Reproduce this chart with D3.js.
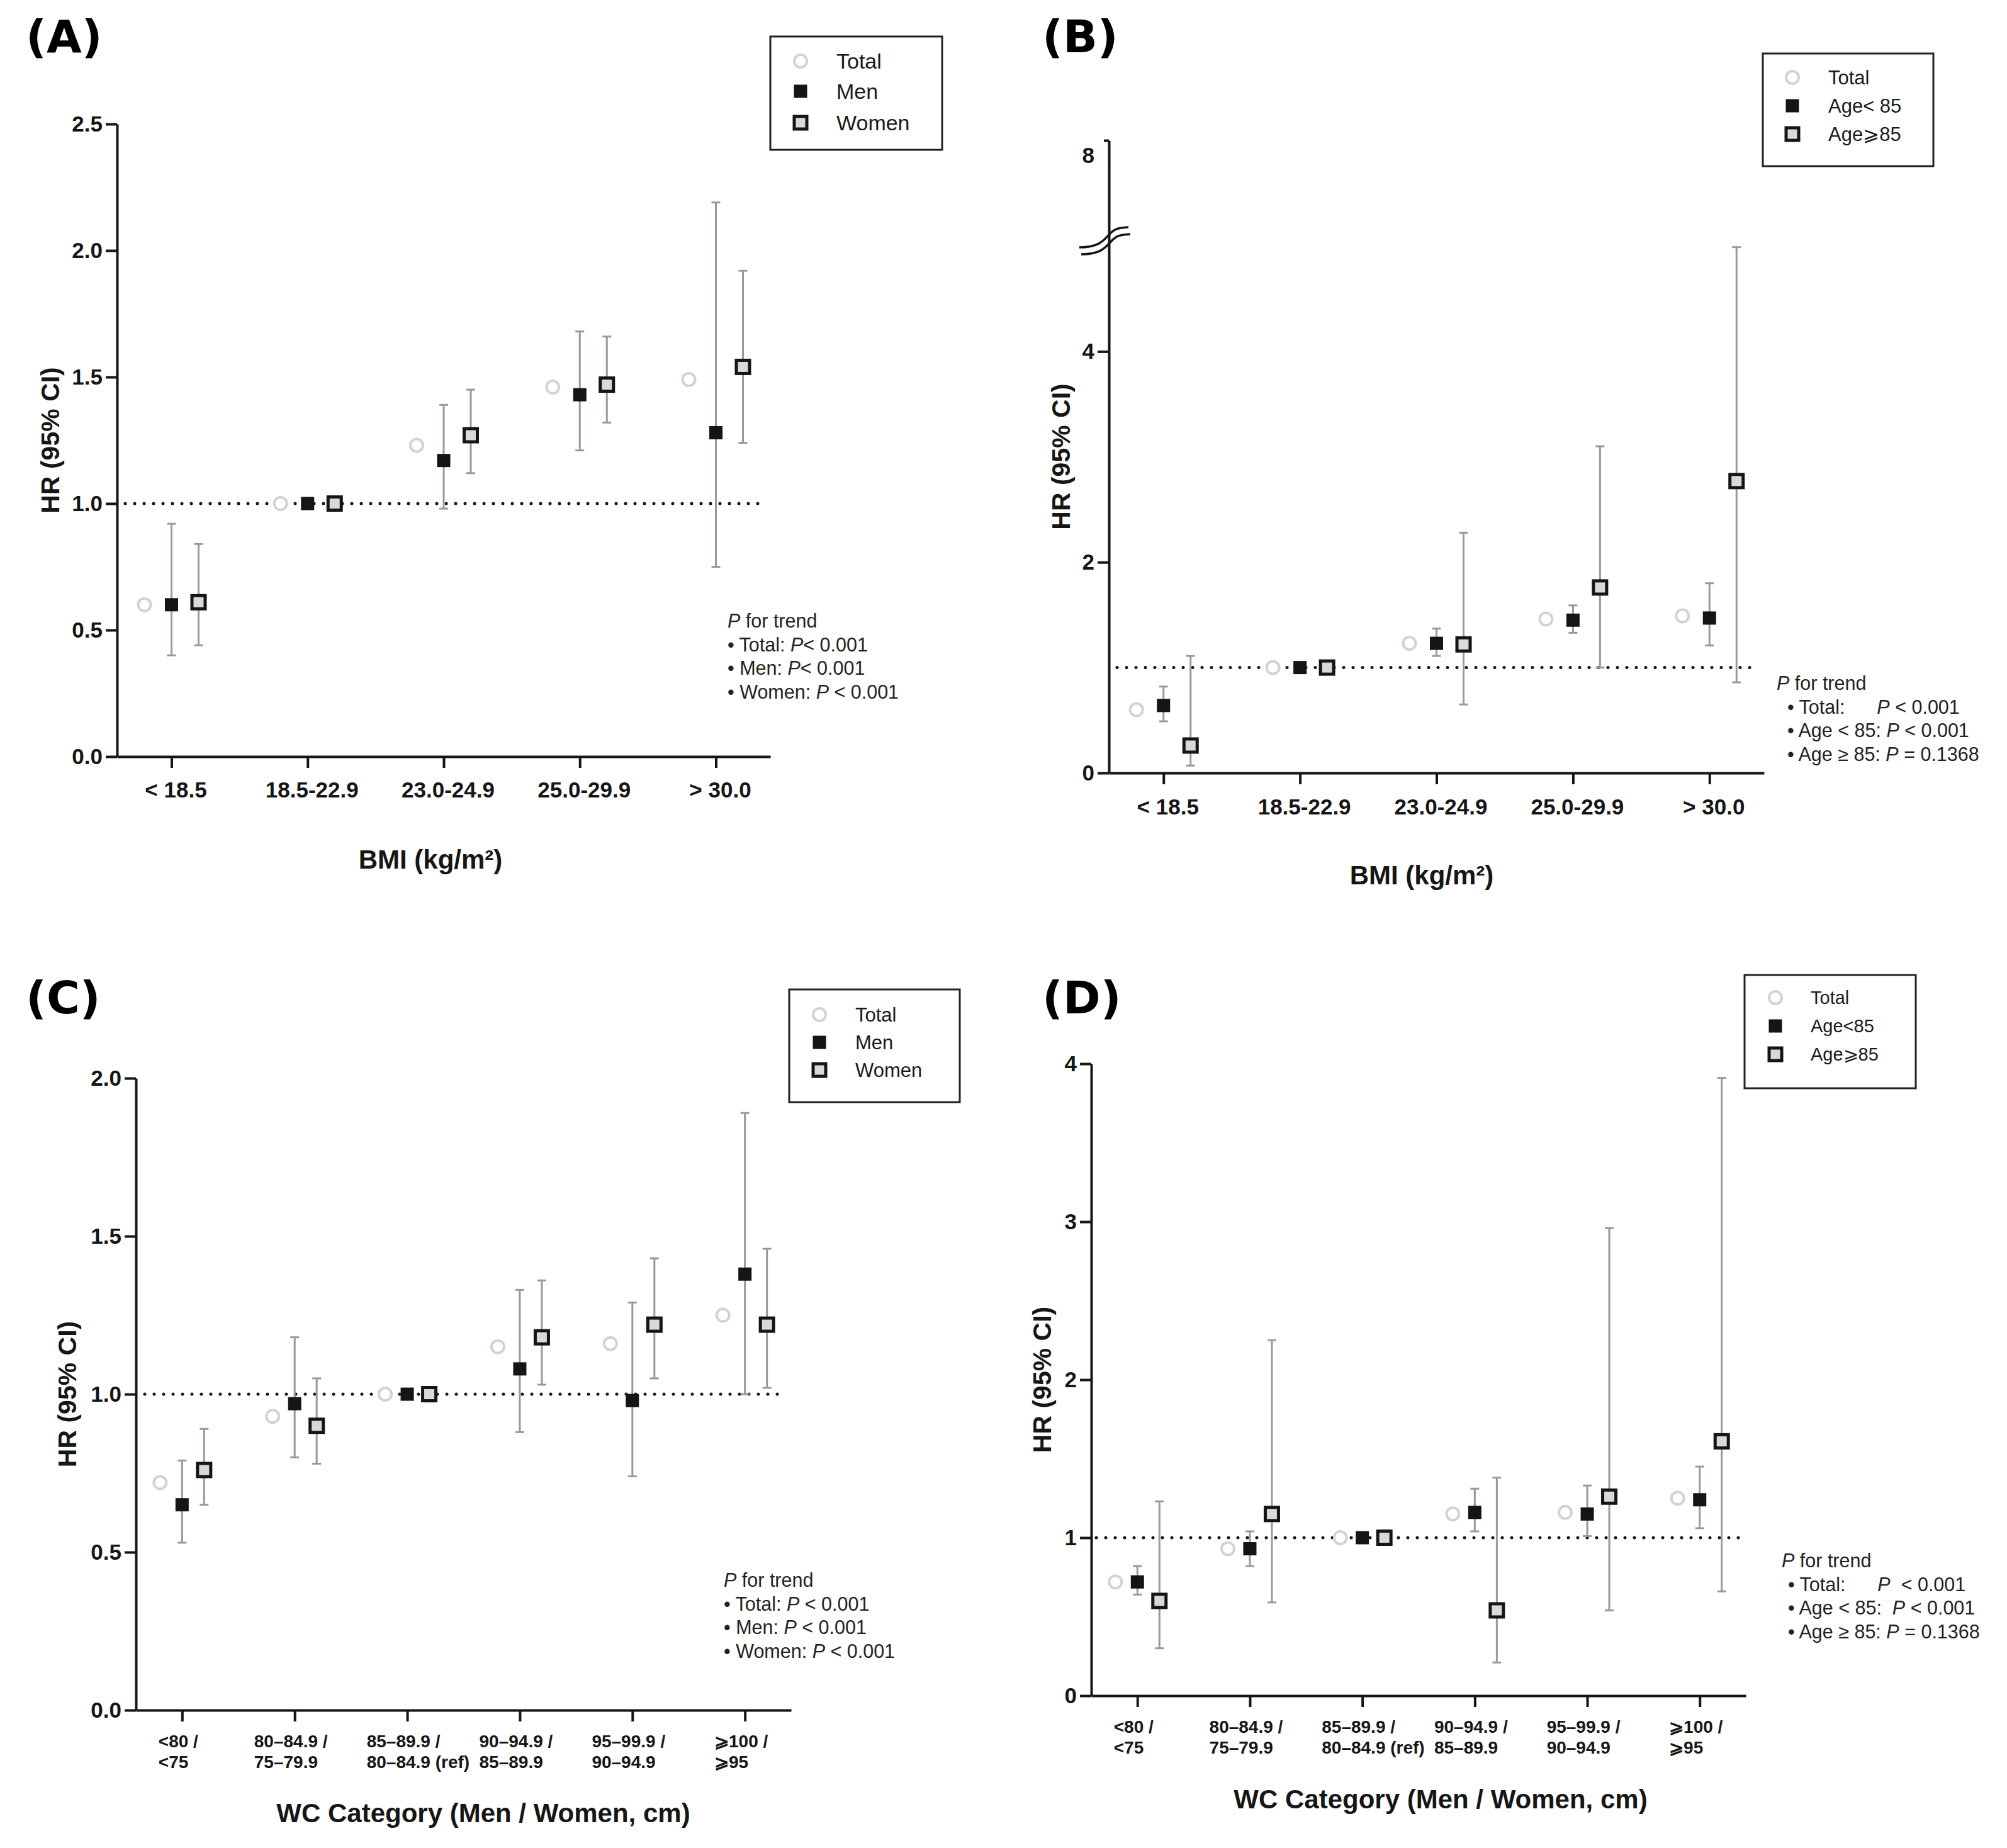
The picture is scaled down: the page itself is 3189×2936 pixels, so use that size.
<!DOCTYPE html>
<html>
<head>
<meta charset="utf-8">
<script src="https://cdn.jsdelivr.net/npm/d3@7"></script>
<style>
body { margin: 0; background: #fff; }
svg { display: block; background: #fff; }
text { font-family: "Liberation Sans", Arial, sans-serif; fill: #161616; }
</style>
</head>
<body>
<svg id="fig" width="3189" height="2936"></svg>
<script>
// Categories
var bmiCats = ["< 18.5", "18.5-22.9", "23.0-24.9", "25.0-29.9", "> 30.0"];
var wcTop = ["<80 /", "80\u201384.9 /", "85\u201389.9 /", "90\u201394.9 /", "95\u201399.9 /", "\u2A7E100 /"];
var wcBottom = ["<75", "75\u201379.9", "80\u201384.9 (ref)", "85\u201389.9", "90\u201394.9", "\u2A7E95"];

// (A) BMI by sex
var aTotal = [0.60, 1.00, 1.23, 1.46, 1.49];
var aMen = [0.60, 1.00, 1.17, 1.43, 1.28];
var aMenLow = [0.40, null, 0.98, 1.21, 0.75];
var aMenHigh = [0.92, null, 1.39, 1.68, 2.19];
var aWomen = [0.61, 1.00, 1.27, 1.47, 1.54];
var aWomenLow = [0.44, null, 1.12, 1.32, 1.24];
var aWomenHigh = [0.84, null, 1.45, 1.66, 1.92];
var aTicks = [0, 0.5, 1, 1.5, 2, 2.5];
var aLegend = ["Total", "Men", "Women"];
var aTrend = [["\u2022 Total: ", "P", "< 0.001"], ["\u2022 Men: ", "P", "< 0.001"], ["\u2022 Women: ", "P", " < 0.001"]];

// (B) BMI by age
var bTotal = [0.60, 1.00, 1.23, 1.46, 1.49];
var bYoung = [0.64, 1.00, 1.23, 1.45, 1.47];
var bYoungLow = [0.49, null, 1.11, 1.33, 1.21];
var bYoungHigh = [0.82, null, 1.37, 1.59, 1.80];
var bOld = [0.26, 1.00, 1.22, 1.76, 2.77];
var bOldLow = [0.07, null, 0.65, 1.00, 0.86];
var bOldHigh = [1.11, null, 2.28, 3.10, 4.99];
var bTicks = [0, 2, 4, 8];
var bLegend = ["Total", "Age< 85", "Age\u2A7E85"];
var bTrend = [["\u2022 Total:      ", "P", " < 0.001"], ["\u2022 Age < 85: ", "P", " < 0.001"], ["\u2022 Age \u2265 85: ", "P", " = 0.1368"]];

// (C) WC by sex
var cTotal = [0.72, 0.93, 1.00, 1.15, 1.16, 1.25];
var cMen = [0.65, 0.97, 1.00, 1.08, 0.98, 1.38];
var cMenLow = [0.53, 0.80, null, 0.88, 0.74, 1.00];
var cMenHigh = [0.79, 1.18, null, 1.33, 1.29, 1.89];
var cWomen = [0.76, 0.90, 1.00, 1.18, 1.22, 1.22];
var cWomenLow = [0.65, 0.78, null, 1.03, 1.05, 1.02];
var cWomenHigh = [0.89, 1.05, null, 1.36, 1.43, 1.46];
var cTicks = [0, 0.5, 1, 1.5, 2];
var cLegend = ["Total", "Men", "Women"];
var cTrend = [["\u2022 Total: ", "P", " < 0.001"], ["\u2022 Men: ", "P", " < 0.001"], ["\u2022 Women: ", "P", " < 0.001"]];

// (D) WC by age
var dTotal = [0.72, 0.93, 1.00, 1.15, 1.16, 1.25];
var dYoung = [0.72, 0.93, 1.00, 1.16, 1.15, 1.24];
var dYoungLow = [0.64, 0.82, null, 1.04, 1.01, 1.06];
var dYoungHigh = [0.82, 1.04, null, 1.31, 1.33, 1.45];
var dOld = [0.60, 1.15, 1.00, 0.54, 1.26, 1.61];
var dOldLow = [0.30, 0.59, null, 0.21, 0.54, 0.66];
var dOldHigh = [1.23, 2.25, null, 1.38, 2.96, 3.91];
var dTicks = [0, 1, 2, 3, 4];
var dLegend = ["Total", "Age<85", "Age\u2A7E85"];
var dTrend = [["\u2022 Total:      ", "P", "  < 0.001"], ["\u2022 Age < 85:  ", "P", " < 0.001"], ["\u2022 Age \u2265 85: ", "P", " = 0.1368"]];

var svg = d3.select("#fig");

var ink = "#151515";
var totalColor = "#d5d1d3";
var womenFill = "#dcd8da";
var barColor = "#9c9899";

// Panel layouts
var panels = [
    { tag: "(A)", tagX: 41, tagY: 83, cats: bmiCats, twoLine: false,
      left: 186, right: 1224, pad: 0.4, yDomain: [0, 2.5], yRange: [1202, 197],
      ticks: aTicks, fmt: d3.format(".1f"), off: 43,
      total: aTotal, s1: aMen, s1Low: aMenLow, s1High: aMenHigh,
      s2: aWomen, s2Low: aWomenLow, s2High: aWomenHigh,
      ref: [199, 1214], labY: 1267, xTitle: "BMI (kg/m\u00B2)", xTitleX: 684, xTitleY: 1380,
      yTitleX: 80, legend: aLegend, box: [1224, 58, 273, 180], legRows: [97, 145, 195],
      legMarkX: 1272, legTextX: 1329, legSize: 34,
      trend: aTrend, trendX: 1156, trendIndent: 0, trendY: 997 },
    { tag: "(B)", tagX: 1656, tagY: 83, cats: bmiCats, twoLine: false,
      left: 1762, right: 2803, pad: 0.4, yDomain: [0, 5, 8], yRange: [1228, 391, 223],
      ticks: bTicks, fmt: d3.format("d"), off: 43, broken: true,
      total: bTotal, s1: bYoung, s1Low: bYoungLow, s1High: bYoungHigh,
      s2: bOld, s2Low: bOldLow, s2High: bOldHigh,
      ref: [1775, 2786], labY: 1294, xTitle: "BMI (kg/m\u00B2)", xTitleX: 2259, xTitleY: 1405,
      yTitleX: 1686, legend: bLegend, box: [2801, 85, 271, 179], legRows: [123, 168, 213],
      legMarkX: 2848, legTextX: 2905, legSize: 31,
      trend: bTrend, trendX: 2823, trendIndent: 17, trendY: 1096 },
    { tag: "(C)", tagX: 41, tagY: 1610, cats: wcTop, twoLine: true,
      left: 216, right: 1257, pad: 0.41, yDomain: [0, 2], yRange: [2717, 1713],
      ticks: cTicks, fmt: d3.format(".1f"), off: 35,
      total: cTotal, s1: cMen, s1Low: cMenLow, s1High: cMenHigh,
      s2: cWomen, s2Low: cWomenLow, s2High: cWomenHigh,
      ref: [230, 1243], labY: 2776, xTitle: "WC Category (Men / Women, cm)", xTitleX: 768, xTitleY: 2895,
      yTitleX: 107, legend: cLegend, box: [1254, 1572, 271, 179], legRows: [1612, 1656, 1700],
      legMarkX: 1302, legTextX: 1359, legSize: 31,
      trend: cTrend, trendX: 1150, trendIndent: 0, trendY: 2521 },
    { tag: "(D)", tagX: 1656, tagY: 1610, cats: wcTop, twoLine: true,
      left: 1734, right: 2774, pad: 0.41, yDomain: [0, 4], yRange: [2694, 1690],
      ticks: dTicks, fmt: d3.format("d"), off: 35,
      total: dTotal, s1: dYoung, s1Low: dYoungLow, s1High: dYoungHigh,
      s2: dOld, s2Low: dOldLow, s2High: dOldHigh,
      ref: [1742, 2763], labY: 2753, xTitle: "WC Category (Men / Women, cm)", xTitleX: 2289, xTitleY: 2873,
      yTitleX: 1656, legend: dLegend, box: [2772, 1549, 272, 180], legRows: [1585, 1630, 1675],
      legMarkX: 2821, legTextX: 2877, legSize: 29,
      trend: dTrend, trendX: 2831, trendIndent: 10, trendY: 2490 }
];

function styleAxis(sel) {
    sel.attr("font-family", null).attr("font-size", null);
    sel.select(".domain").attr("stroke", ink).attr("stroke-width", 4);
    sel.selectAll(".tick line").attr("stroke", ink).attr("stroke-width", 4);
    sel.selectAll(".tick text")
        .attr("font-size", 35).attr("font-weight", "bold").style("fill", ink);
}

function drawTotal(g, cx, cy, r) {
    g.append("circle").attr("cx", cx).attr("cy", cy).attr("r", r)
        .attr("fill", "#fff").attr("stroke", totalColor).attr("stroke-width", 4);
}

function drawSolid(g, cx, cy, s) {
    g.append("rect").attr("x", cx - s / 2).attr("y", cy - s / 2)
        .attr("width", s).attr("height", s).attr("fill", ink);
}

function drawHollow(g, cx, cy, s) {
    g.append("rect").attr("x", cx - s / 2 + 2.5).attr("y", cy - s / 2 + 2.5)
        .attr("width", s - 5).attr("height", s - 5)
        .attr("fill", womenFill).attr("stroke", ink).attr("stroke-width", 5);
}

function drawPanel(p) {
    var g = svg.append("g");
    var n = p.cats.length;

    var x = d3.scalePoint().domain(d3.range(n)).range([p.left, p.right]).padding(p.pad);
    var y = d3.scaleLinear().domain(p.yDomain).range(p.yRange);
    var yBottom = p.yRange[0];

    // panel letter
    g.append("text").attr("x", p.tagX).attr("y", p.tagY)
        .style("font-family", "'DejaVu Sans', sans-serif").attr("font-weight", "bold")
        .attr("font-size", 72).style("fill", "#000").text(p.tag);

    // axes
    var yAxis = d3.axisLeft(y).tickValues(p.ticks).tickFormat(p.fmt)
        .tickSize(18).tickSizeOuter(0).tickPadding(5);
    var gy = g.append("g").attr("transform", "translate(" + p.left + ",0)").call(yAxis);
    styleAxis(gy);

    var xAxis = d3.axisBottom(x).tickFormat("").tickSize(18).tickSizeOuter(0);
    var gx = g.append("g").attr("transform", "translate(0," + yBottom + ")").call(xAxis);
    styleAxis(gx);

    if (p.broken) {
        // short top tick and label sitting below it
        gy.selectAll(".tick").filter(function(d) { return d === 8; })
            .call(function(t) {
                t.select("line").attr("x2", -8);
                t.select("text").attr("dy", "1.0em");
            });
        // axis break marks
        var yb = y(5);
        [0, 1].forEach(function(k) {
            var dx = p.left - 47 + k * 3, dy = yb + 2 + k * 11;
            g.append("path")
                .attr("d", "M" + dx + "," + dy + " C" + (dx + 30) + "," + dy + " " + (dx + 38) + "," + (dy - 10) +
                    " " + (dx + 47) + "," + (dy - 20) + " S" + (dx + 62) + "," + (dy - 31) + " " + (dx + 78) + "," + (dy - 32))
                .attr("fill", "none").attr("stroke", ink).attr("stroke-width", 3.5);
        });
    }

    // x tick labels
    if (!p.twoLine) {
        g.selectAll(".xlab").data(p.cats).enter().append("text")
            .attr("x", function(d, i) { return x(i) + 7; })
            .attr("y", p.labY)
            .attr("text-anchor", "middle").attr("font-size", 35).attr("font-weight", "bold")
            .text(function(d) { return d; });
    } else {
        p.cats.forEach(function(top, i) {
            var t1 = g.append("text").attr("y", p.labY)
                .attr("font-size", 28).attr("font-weight", "bold").text(top);
            var w = t1.node().getComputedTextLength();
            var x0 = x(i) - w / 2 - 6;
            t1.attr("x", x0);
            g.append("text").attr("x", x0).attr("y", p.labY + 33)
                .attr("font-size", 28).attr("font-weight", "bold").text(wcBottom[i]);
        });
    }

    // axis titles
    g.append("text").attr("x", p.xTitleX).attr("y", p.xTitleY)
        .attr("text-anchor", "middle").attr("font-size", 42).attr("font-weight", "bold")
        .text(p.xTitle);
    var yMid = (p.yRange[0] + p.yRange[p.yRange.length - 1]) / 2;
    g.append("text")
        .attr("transform", "translate(" + p.yTitleX + "," + yMid + ") rotate(-90)")
        .attr("text-anchor", "middle").attr("dominant-baseline", "central")
        .attr("font-size", 41).attr("font-weight", "bold").text("HR (95% CI)");

    // reference line at HR = 1
    g.append("line").attr("x1", p.ref[0]).attr("x2", p.ref[1])
        .attr("y1", y(1)).attr("y2", y(1))
        .attr("stroke", ink).attr("stroke-width", 5)
        .attr("stroke-dasharray", "0,15").attr("stroke-linecap", "round");

    // confidence intervals
    function bars(low, high, off) {
        low.forEach(function(lo, i) {
            if (lo === null) return;
            var cx = x(i) + off;
            var y1 = y(lo), y2 = y(high[i]);
            g.append("line").attr("x1", cx).attr("x2", cx).attr("y1", y1).attr("y2", y2)
                .attr("stroke", barColor).attr("stroke-width", 3);
            [y1, y2].forEach(function(yy) {
                g.append("line").attr("x1", cx - 7).attr("x2", cx + 7).attr("y1", yy).attr("y2", yy)
                    .attr("stroke", barColor).attr("stroke-width", 3);
            });
        });
    }
    bars(p.s1Low, p.s1High, 0);
    bars(p.s2Low, p.s2High, p.off);

    // points
    p.total.forEach(function(v, i) { drawTotal(g, x(i) - p.off, y(v), 10); });
    p.s1.forEach(function(v, i) { drawSolid(g, x(i), y(v), 21); });
    p.s2.forEach(function(v, i) { drawHollow(g, x(i) + p.off, y(v), 26); });

    // legend
    g.append("rect").attr("x", p.box[0]).attr("y", p.box[1])
        .attr("width", p.box[2]).attr("height", p.box[3])
        .attr("fill", "none").attr("stroke", "#222").attr("stroke-width", 3);
    drawTotal(g, p.legMarkX, p.legRows[0], 10);
    drawSolid(g, p.legMarkX, p.legRows[1], 21);
    drawHollow(g, p.legMarkX, p.legRows[2], 25);
    p.legend.forEach(function(name, i) {
        g.append("text").attr("x", p.legTextX).attr("y", p.legRows[i])
            .attr("dominant-baseline", "central").attr("font-size", p.legSize)
            .style("fill", "#1a1a1a").text(name);
    });

    // P for trend note
    var note = g.append("text").attr("font-size", 30.5).style("fill", "#222")
        .style("white-space", "pre");
    var head = note.append("tspan").attr("x", p.trendX).attr("y", p.trendY);
    head.append("tspan").attr("font-style", "italic").text("P");
    head.append("tspan").text(" for trend");
    p.trend.forEach(function(parts, i) {
        var line = g.append("text").attr("x", p.trendX + p.trendIndent).attr("y", p.trendY + 37.5 * (i + 1))
            .attr("font-size", 30.5).style("fill", "#222").style("white-space", "pre");
        line.append("tspan").text(parts[0]);
        line.append("tspan").attr("font-style", "italic").text(parts[1]);
        line.append("tspan").text(parts[2]);
    });
}

panels.forEach(drawPanel);
</script>
</body>
</html>
